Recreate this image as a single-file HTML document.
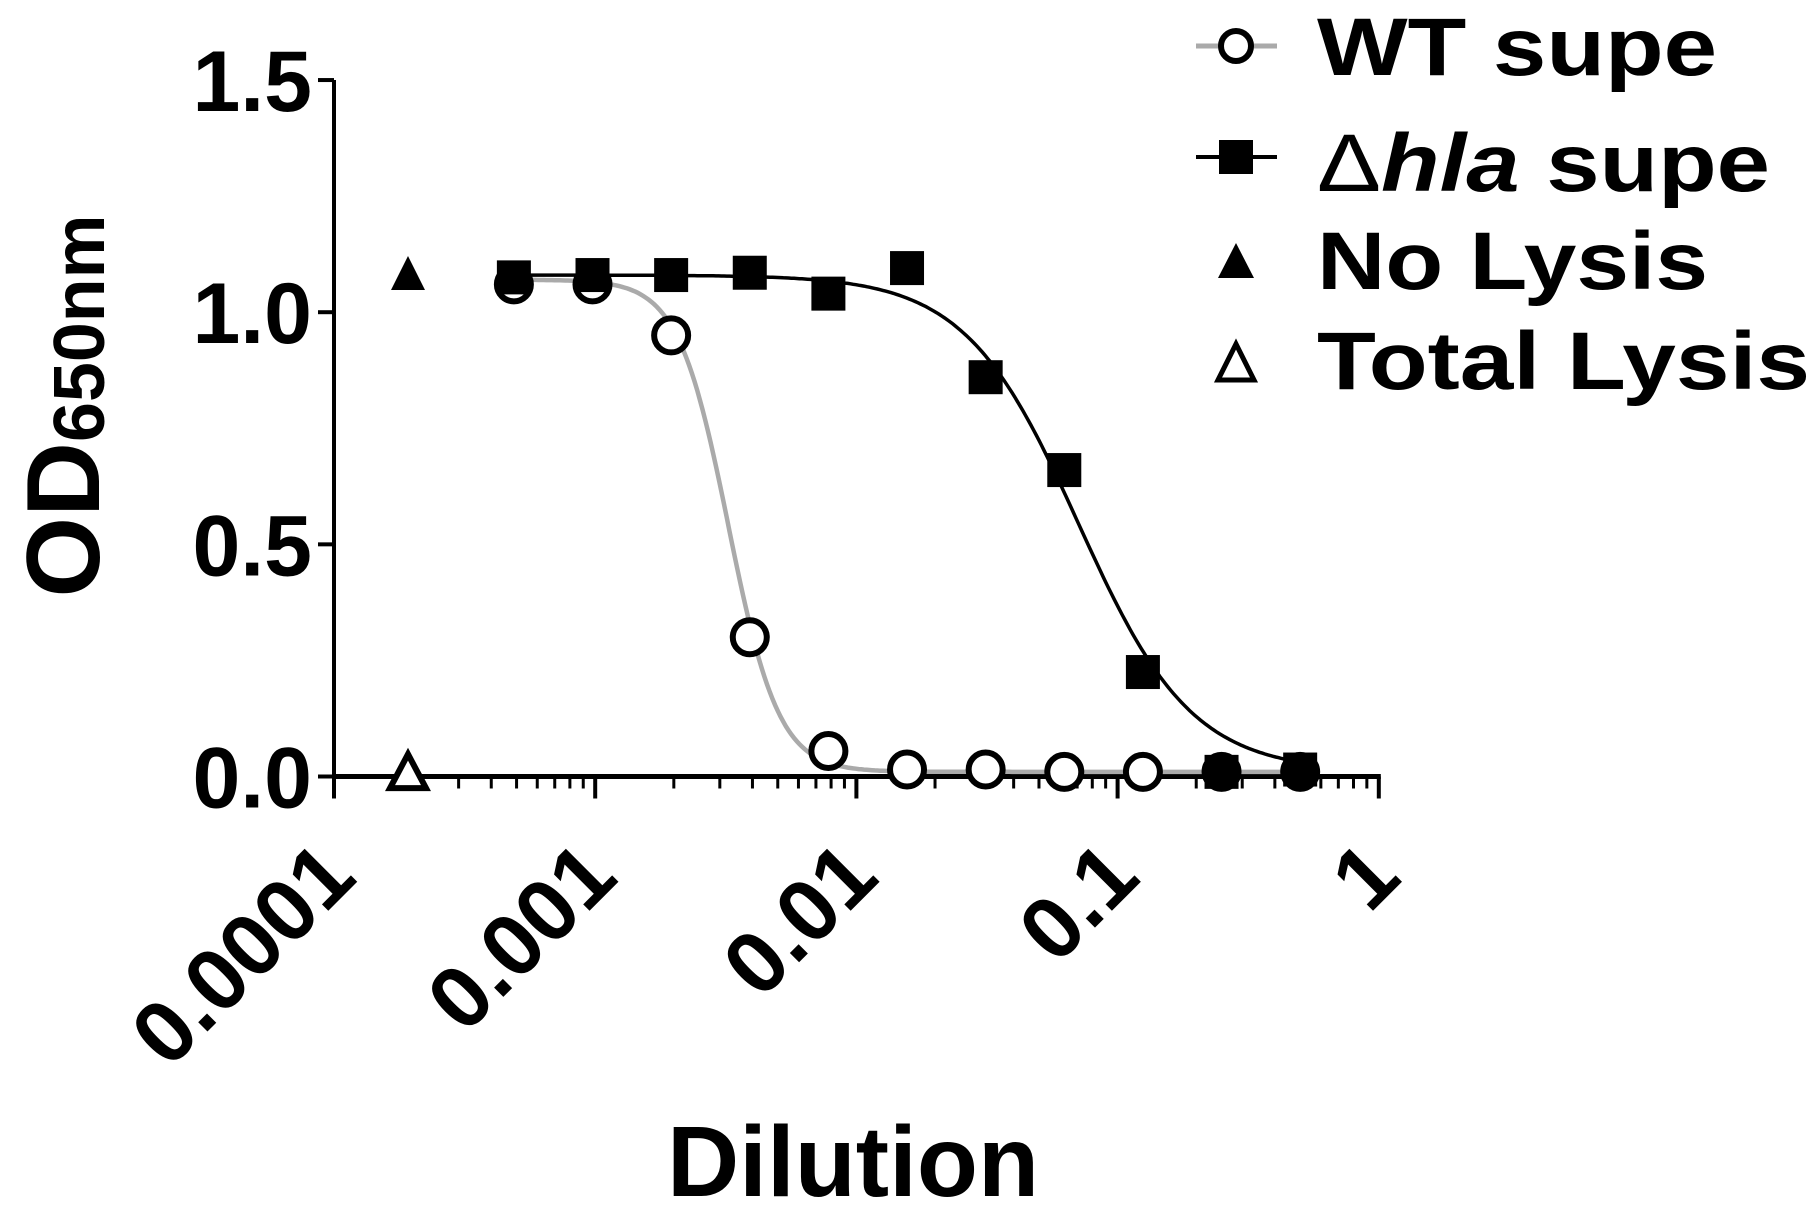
<!DOCTYPE html>
<html><head><meta charset="utf-8"><style>
html,body{margin:0;padding:0;background:#fff;}
svg{display:block;font-family:"Liberation Sans",Arial,sans-serif;font-weight:bold;}
</style></head><body>
<svg id="chart" width="1820" height="1208" viewBox="0 0 1820 1208">
<g id="axes"></g>
<g id="curves"></g>
<g id="marks"></g>
<text x="64" y="406" font-size="104" text-anchor="middle" transform="rotate(-90 64 406)" dominant-baseline="central" textLength="383" lengthAdjust="spacingAndGlyphs">OD<tspan font-size="72" dy="16">650nm</tspan></text>
<text x="853" y="1196" font-size="100" text-anchor="middle">Dilution</text>
<g>
  <g>
    <line x1="1196" y1="46" x2="1277" y2="46" stroke="#aaa" stroke-width="5"/>
    <circle cx="1236" cy="46" r="15" fill="#fff" stroke="#000" stroke-width="6"/>
    <text x="1317" y="75" font-size="82" textLength="400" lengthAdjust="spacingAndGlyphs">WT supe</text>
  </g>
  <g>
    <line x1="1196" y1="157" x2="1277" y2="157" stroke="#000" stroke-width="4"/>
    <rect x="1219" y="140" width="34" height="34" fill="#000"/>
    <text x="1317" y="191" font-size="82" textLength="453" lengthAdjust="spacingAndGlyphs"><tspan font-weight="normal">Δ</tspan><tspan font-style="italic">hla</tspan> supe</text>
  </g>
  <g>
    <polygon points="1236,243 1254,278 1218,278" fill="#000"/>
    <text x="1317" y="289" font-size="82" textLength="391" lengthAdjust="spacingAndGlyphs">No Lysis</text>
  </g>
  <g>
    <polygon points="1236,344 1254,380 1218,380" fill="#fff" stroke="#000" stroke-width="5"/>
    <text x="1317" y="389" font-size="82" textLength="493" lengthAdjust="spacingAndGlyphs">Total Lysis</text>
  </g>
</g>
</svg>
<script>
const dilutions = [1/2048,1/1024,1/512,1/256,1/128,1/64,1/32,1/16,1/8,1/4,1/2];
const wtValues = [1.06,1.06,0.95,0.30,0.055,0.015,0.015,0.01,0.01,0.01,0.01];
const hlaValues = [1.075,1.08,1.08,1.085,1.04,1.095,0.86,0.66,0.225,0.01,0.015];
const controlDilution = [0.000192];
const noLysisValue = [1.08];
const totalLysisValue = [0.005];
const yTicks = [0,0.5,1.0,1.5];
const yTickLabels = ["0.0","0.5","1.0","1.5"];
const xTicks = [0.0001,0.001,0.01,0.1,1];
const xTickLabels = ["0.0001","0.001","0.01","0.1","1"];
const wtFit = [1.07,0.01,-2.49,4.5];   // top,bottom,logIC50,hill
const hlaFit = [1.08,0.01,-1.15,2.0];

const NS="http://www.w3.org/2000/svg";
const X0=334, DEC=261.2, Y0=776.5, YU=464.3;
const xS=v=>X0+(Math.log10(v)+4)*DEC;
const yS=v=>Y0-v*YU;
function mk(tag,attrs,parent){const e=document.createElementNS(NS,tag);for(const k in attrs)e.setAttribute(k,attrs[k]);parent.appendChild(e);return e;}
const axes=document.getElementById('axes'),curves=document.getElementById('curves'),marks=document.getElementById('marks');

let a=mk('line',{x1:X0,y1:yS(1.5),x2:X0,y2:Y0+3,stroke:'#000','stroke-width':4},axes);


yTicks.forEach((t,i)=>{
  const tk=mk('line',{x1:X0-16,y1:yS(t),x2:X0,y2:yS(t),stroke:'#000','stroke-width':4},axes);
  
  
  const tx=mk('text',{x:X0-22,y:yS(t)+31,'font-size':86,'text-anchor':'end'},axes);
  tx.textContent=yTickLabels[i];
  
  
});
a=mk('line',{x1:X0,y1:Y0,x2:xS(1)+2,y2:Y0,stroke:'#000','stroke-width':5},axes);


xTicks.forEach((t,i)=>{
  const tk=mk('line',{x1:xS(t),y1:Y0,x2:xS(t),y2:Y0+22,stroke:'#000','stroke-width':4},axes);
  
  
  const ax=xS(t)+25, ay=880;
  const tx=mk('text',{x:ax,y:ay,'font-size':88,'text-anchor':'end',transform:`rotate(-45 ${ax} ${ay})`},axes);
  tx.textContent=xTickLabels[i];
  
  
  if(i<xTicks.length-1){for(let m=2;m<=9;m++){
    const mt=mk('line',{x1:xS(t*m),y1:Y0,x2:xS(t*m),y2:Y0+12,stroke:'#000','stroke-width':3},axes);
    
    
  }}
});
function curve(p,color,w,name){
  let d='';const lo=Math.log10(dilutions[0])-0.04,hi=Math.log10(dilutions[dilutions.length-1])+0.04;
  for(let k=0;k<=300;k++){const lx=lo+(hi-lo)*k/300;const y=p[1]+(p[0]-p[1])/(1+Math.pow(10,(lx-p[2])*p[3]));
    d+=(k?'L':'M')+xS(Math.pow(10,lx)).toFixed(1)+','+yS(y).toFixed(1);}
  const e=mk('path',{d:d,fill:'none',stroke:color,'stroke-width':w},curves);
  
  
}
curve(wtFit,'#aaa',4.5,'wt-fit-curve');
curve(hlaFit,'#000',3.5,'hla-fit-curve');
dilutions.forEach((d,i)=>{
  const c=mk('circle',{cx:xS(d),cy:yS(wtValues[i]),r:17,fill:'#fff',stroke:'#000','stroke-width':6},marks);
  
  
});
dilutions.forEach((d,i)=>{
  const s=mk('rect',{x:xS(d)-17,y:yS(hlaValues[i])-17,width:34,height:34,fill:'#000'},marks);
  
  
});
controlDilution.forEach((d,i)=>{
  const x=xS(d),y1=yS(noLysisValue[i]),y2=yS(totalLysisValue[i]);
  const t1=mk('polygon',{points:`${x},${y1-19} ${x+17},${y1+15} ${x-17},${y1+15}`,fill:'#000'},marks);
  
  
  const t2=mk('polygon',{points:`${x},${y2-20} ${x+18},${y2+14} ${x-18},${y2+14}`,fill:'#fff',stroke:'#000','stroke-width':6},marks);
  
  
});
</script>
</body></html>
